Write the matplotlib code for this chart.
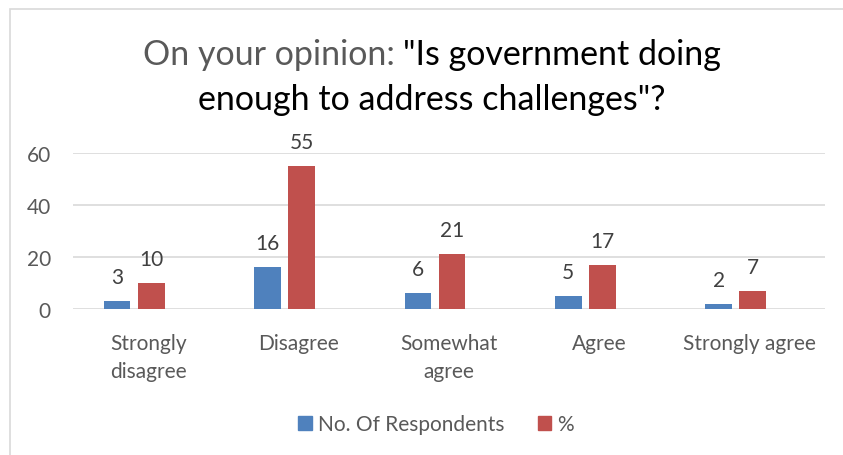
import matplotlib
matplotlib.use("Agg")
import matplotlib.pyplot as plt
from matplotlib.patches import Patch, Rectangle
import numpy as np

categories = ["Strongly\ndisagree", "Disagree", "Somewhat\nagree", "Agree", "Strongly agree"]
respondents = [3, 16, 6, 5, 2]
percent = [10, 55, 21, 17, 7]
series_names = ["No. Of Respondents", "%"]
yticks = [0, 20, 40, 60]

BLUE = "#4F81BD"
RED = "#C0504D"
GREY = "#595959"
FONT = "Lato"
FS = 15

W, H = 843, 456
fig = plt.figure(figsize=(W / 100, H / 100), dpi=100)
fig.patch.set_facecolor("white")

# chart border
fig.add_artist(Rectangle((10 / W, -0.1), 1.2, 1 - 10 / H + 0.1, transform=fig.transFigure,
                         fill=False, edgecolor="#D9D9D9", linewidth=1.2))

ax = fig.add_axes([73 / W, 1 - 310 / H, 752 / W, 156 / H])
x = np.arange(len(categories))
bw = 0.177
b1 = ax.bar(x - 0.207, respondents, bw, color=BLUE, zorder=3)
b2 = ax.bar(x + 0.02, percent, bw, color=RED, zorder=3)

for bars, vals in ((b1, respondents), (b2, percent)):
    for r, v in zip(bars, vals):
        ax.annotate(str(v), (r.get_x() + r.get_width() / 2, r.get_height()),
                    xytext=(0, 13), textcoords="offset points", ha="center", va="baseline",
                    fontsize=FS, color="#404040", family=FONT, annotation_clip=False)

ax.set_xlim(-0.5, len(categories) - 0.5)
ax.set_ylim(0, 60)
ax.set_yticks(yticks)
ax.set_xticks(x)
ax.set_xticklabels(categories, family=FONT, fontsize=FS, color=GREY, linespacing=1.55)
ax.set_yticklabels([str(t) for t in yticks], family=FONT, fontsize=FS, color=GREY)
ax.tick_params(axis="both", length=0)
ax.tick_params(axis="y", pad=16)
ax.tick_params(axis="x", pad=17)
for s in ax.spines.values():
    s.set_visible(False)
ax.grid(axis="y", color="#D9D9D9", linewidth=1.2, zorder=0)
ax.set_axisbelow(True)

# title with two colours
fig.canvas.draw()
r = fig.canvas.get_renderer()
tsize = 24.5
p1, p2 = "On your opinion: ", "\"Is government doing"
t1 = fig.text(0, 0, p1, family=FONT, fontsize=tsize, color=GREY, va="baseline")
t2 = fig.text(0, 0, p2, family=FONT, fontsize=tsize, color="black", va="baseline")
w1 = t1.get_window_extent(r).width
w2 = t2.get_window_extent(r).width
cx = 432
y1 = 1 - 65 / H
x0 = cx - (w1 + w2) / 2
t1.set_position((x0 / W, y1))
t2.set_position(((x0 + w1) / W, y1))
fig.text(cx / W, 1 - 110 / H, "enough to address challenges\"?", family=FONT, fontsize=tsize,
         color="black", ha="center", va="baseline")

handles = [Patch(color=BLUE), Patch(color=RED)]
fig.legend(handles, series_names, loc="center", bbox_to_anchor=(436 / W, 1 - 425 / H),
           ncol=2, frameon=False, handlelength=0.65, handleheight=0.65, handletextpad=0.3,
           columnspacing=1.6, prop={"family": FONT, "size": FS}, labelcolor=GREY)

fig.savefig("out.png", dpi=100, facecolor="white")
